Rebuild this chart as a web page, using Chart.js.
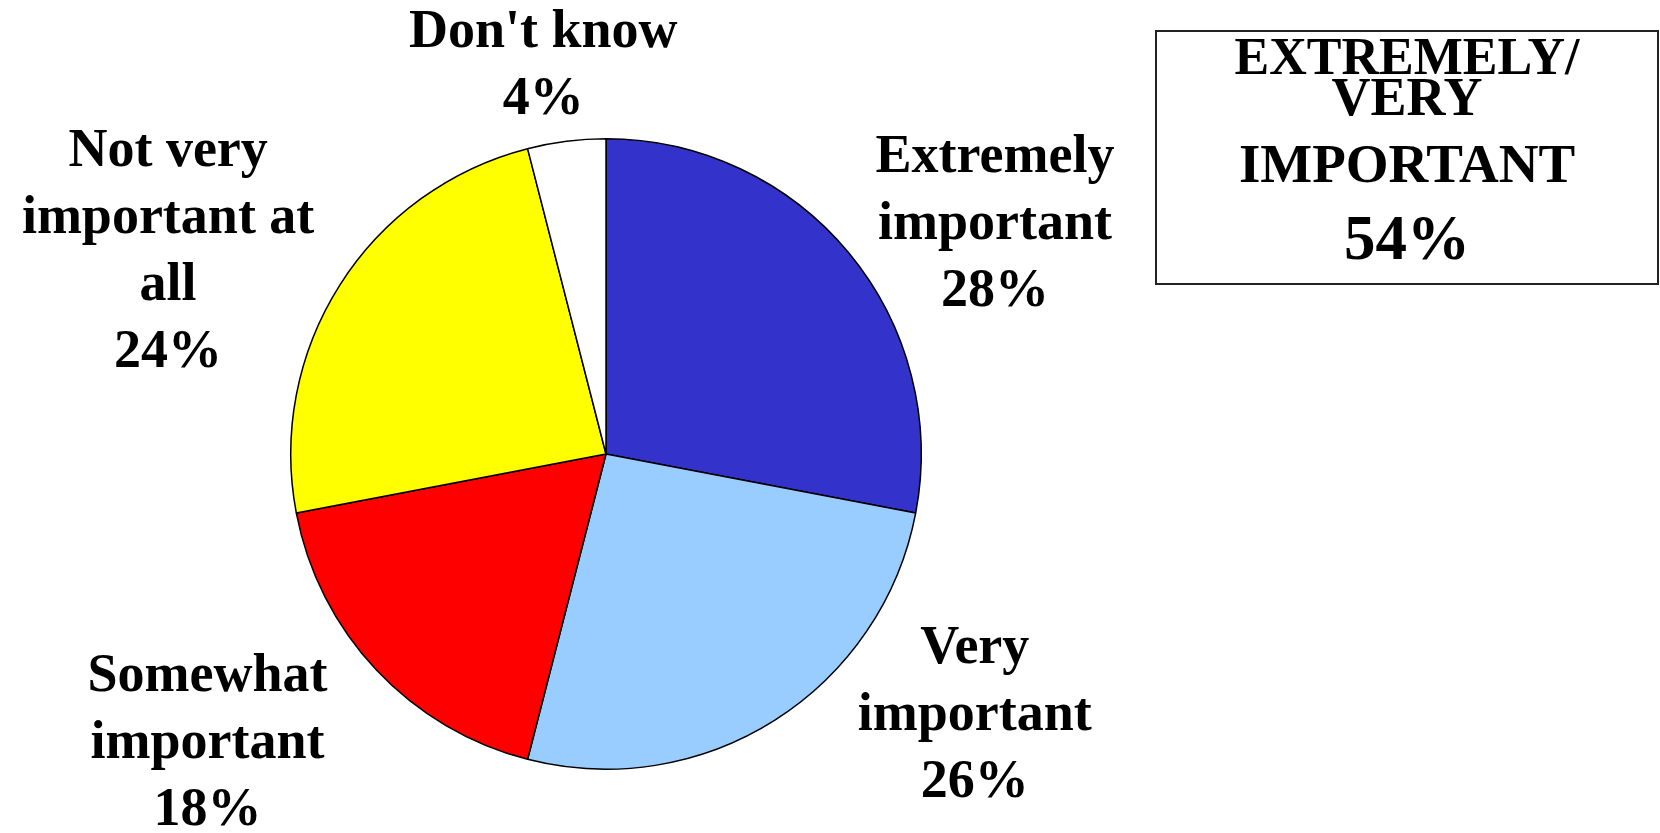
<!DOCTYPE html>
<html>
<head>
<meta charset="utf-8">
<script src="https://cdn.jsdelivr.net/npm/chart.js@4.4.0/dist/chart.umd.min.js"></script>
<style>
  html, body { margin: 0; padding: 0; background: #fff; }
  #wrap { position: relative; width: 1660px; height: 833px; }
  #box {
    position: absolute; left: 1155px; top: 30px; width: 504px; height: 255px;
    border: 2px solid #222; box-sizing: border-box; text-align: center;
    font-family: "Liberation Serif", "Times New Roman", serif; font-weight: bold; color: #000;
  }
  #box .l1 { position: absolute; left: 0; right: 0; font-size: 54px; line-height: 54px; white-space: nowrap; }
</style>
</head>
<body>
<div id="wrap">
  <canvas id="c" width="1660" height="833"></canvas>
  <div id="box">
    <div class="l1" style="top:-1px;font-size:52px;line-height:52px">EXTREMELY/</div>
    <div class="l1" style="top:38px">VERY</div>
    <div class="l1" style="top:104px;font-size:55px;line-height:55px">IMPORTANT</div>
    <div class="l1" style="top:175px;font-size:63px;line-height:63px">54%</div>
  </div>
</div>
<script>
const categories = ["Extremely important", "Very important", "Somewhat important", "Not very important at all", "Don't know"];
const values = [28, 26, 18, 24, 4];
const colors = ["#3333CC", "#99CCFF", "#FF0000", "#FFFF00", "#FFFFFF"];
const labelLines = [
  ["Extremely", "important", "28%"],
  ["Very", "important", "26%"],
  ["Somewhat", "important", "18%"],
  ["Not very", "important at", "all", "24%"],
  ["Don't know", "4%"]
];

// label block centres, expressed in units of the pie radius relative to the pie centre
const labelOffsets = [
  [1.234, -0.725],
  [1.170, 0.830],
  [-1.264, 0.920],
  [-1.389, -0.640],
  [-0.199, -1.230]
];

const labelPlugin = {
  id: 'pieLabels',
  afterDraw(chart) {
    const ctx = chart.ctx;
    const meta = chart.getDatasetMeta(0);
    ctx.save();
    ctx.font = 'bold 54px "Liberation Serif", "Times New Roman", serif';
    ctx.fillStyle = '#000';
    ctx.textAlign = 'center';
    ctx.textBaseline = 'middle';
    const lh = 67;
    meta.data.forEach((arc, i) => {
      const r = arc.outerRadius;
      const cx = arc.x + labelOffsets[i][0] * r;
      const cy = arc.y + labelOffsets[i][1] * r;
      const lines = labelLines[i];
      lines.forEach((t, j) => {
        ctx.fillText(t, cx, cy + (j - (lines.length - 1) / 2) * lh);
      });
    });
    ctx.restore();
  }
};

new Chart(document.getElementById('c'), {
  type: 'pie',
  data: {
    labels: categories,
    datasets: [{
      data: values,
      backgroundColor: colors,
      borderColor: '#000',
      borderWidth: 1.5
    }]
  },
  options: {
    responsive: false,
    animation: false,
    layout: { padding: { left: 290, right: 738, top: 138, bottom: 63 } },
    plugins: { legend: { display: false }, tooltip: { enabled: false } }
  },
  plugins: [labelPlugin]
});
</script>
</body>
</html>
